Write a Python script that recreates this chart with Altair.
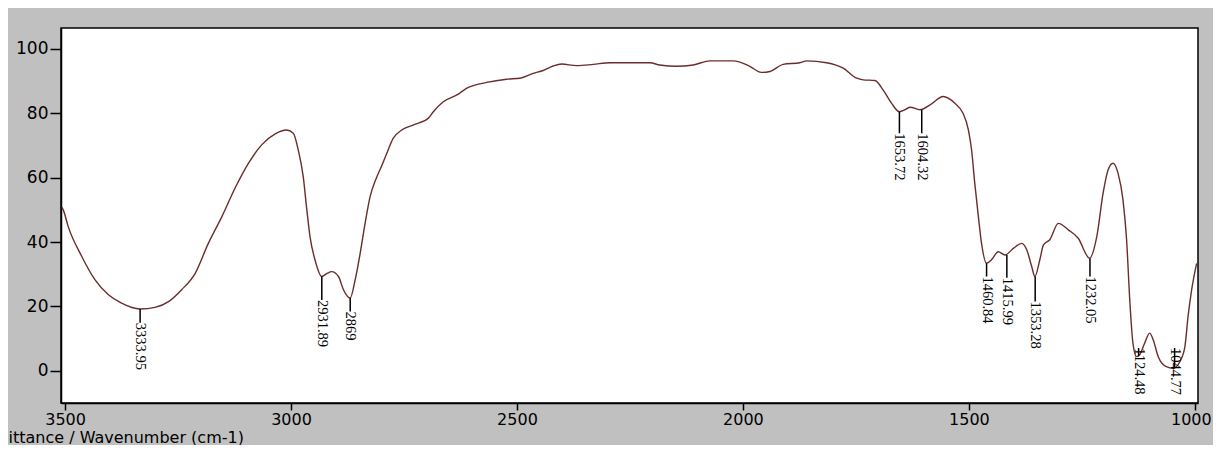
import altair as alt
import pandas as pd

# Spectrum trace (wavenumber cm-1, %T)
wavenumber = [3507, 3504, 3493, 3463, 3434, 3404, 3375, 3334, 3301, 3271, 3242, 3212,
              3183, 3153, 3124, 3094, 3065, 3035, 3010, 2995, 2984, 2973, 2965, 2958,
              2947, 2932, 2921, 2910, 2895, 2884, 2869, 2858, 2847, 2836, 2825, 2810,
              2800, 2788, 2774, 2755, 2729, 2696, 2685, 2663, 2633, 2611, 2567, 2523,
              2493, 2464, 2442, 2420, 2401, 2368, 2331, 2294, 2206, 2184, 2147, 2110,
              2073, 2021, 1985, 1959, 1940, 1911, 1874, 1859, 1815, 1778, 1748, 1734,
              1708, 1690, 1671, 1654, 1640, 1630, 1608, 1586, 1557, 1531, 1513, 1501,
              1494, 1487, 1479, 1472, 1461, 1450, 1435, 1420, 1401, 1383, 1372, 1361,
              1354, 1343, 1335, 1321, 1302, 1280, 1258, 1233, 1217, 1203, 1192, 1181,
              1170, 1159, 1151, 1144, 1137, 1129, 1122, 1111, 1100, 1092, 1081, 1063,
              1048, 1033, 1022, 1015, 1007, 996]
transmittance = [50.8, 50.0, 44.8, 35.5, 28.3, 23.6, 21.0, 19.2, 19.7, 21.5, 25.2, 30.3,
                 39.6, 47.9, 56.7, 64.5, 70.2, 73.6, 74.8, 73.8, 68.6, 60.3, 50.0, 41.7,
                 34.5, 29.3, 30.2, 30.8, 29.3, 25.2, 22.6, 28.3, 36.5, 45.9, 54.1, 60.3,
                 63.5, 67.6, 72.2, 74.8, 76.4, 78.5, 80.5, 83.6, 85.7, 87.8, 89.6, 90.6,
                 90.9, 92.4, 93.3, 94.7, 95.3, 94.8, 95.2, 95.7, 95.7, 95.0, 94.6, 95.0,
                 96.3, 96.3, 94.6, 92.7, 93.0, 95.2, 95.7, 96.3, 95.7, 94.0, 90.9, 90.4,
                 90.2, 87.3, 83.1, 80.5, 81.2, 81.9, 81.1, 82.6, 85.2, 83.1, 80.0, 74.8,
                 68.6, 58.3, 47.9, 39.6, 33.4, 34.5, 37.0, 36.0, 38.1, 39.6, 37.6, 32.4,
                 29.3, 34.5, 39.1, 40.7, 45.8, 43.8, 41.2, 35.0, 41.7, 55.2, 62.4, 64.5,
                 61.4, 53.1, 40.7, 22.0, 8.6, 4.4, 5.0, 8.6, 11.7, 9.6, 4.4, 1.3,
                 0.8, 2.9, 7.5, 16.9, 25.2, 33.4]

# Peak annotations
peak_wn = [3333.95, 2931.89, 2869, 1653.72, 1604.32, 1460.84, 1415.99, 1353.28, 1232.05, 1124.48, 1044.77]
peak_text = ["3333.95", "2931.89", "2869", "1653.72", "1604.32", "1460.84", "1415.99",
             "1353.28", "1232.05", "1124.48", "1044.77"]
peak_val = [19.2, 29.3, 22.6, 80.5, 81.1, 33.4, 36.0, 29.3, 35.0, 4.6, 0.8]
label_val = [14.9, 22.0, 18.4, 73.8, 73.8, 29.3, 28.9, 21.5, 29.3, 7.1, 7.1]

x_ticks = [3500, 3000, 2500, 2000, 1500, 1000]
y_ticks = [0, 20, 40, 60, 80, 100]

spec = pd.DataFrame({"wn": wavenumber, "t": transmittance})
peaks = pd.DataFrame({"wn": peak_wn, "txt": peak_text, "pv": peak_val, "lv": label_val})

xs = alt.Scale(domain=[993, 3509], reverse=True, nice=False, zero=False)
ys = alt.Scale(domain=[-10, 106.5], nice=False, zero=False)

x_axis = alt.Axis(values=x_ticks, format="d", tickSize=7, labelPadding=1,
                  labelFontSize=16,
                  labelOffset={"condition": {"test": "datum.value == 1000", "value": -4},
                               "value": 0},
                  title="ittance / Wavenumber (cm-1)", titleX=-53, titleY=34,
                  titleAlign="left", titleBaseline="middle", titleAnchor="start",
                  titleFontSize=16)
y_axis = alt.Axis(values=y_ticks, tickSize=11, labelPadding=2, title=None)

line = alt.Chart(spec).mark_line(color="#6b2c2c", strokeWidth=1.4, clip=True,
                                 interpolate="monotone").encode(
    x=alt.X("wn:Q", scale=xs, axis=x_axis),
    y=alt.Y("t:Q", scale=ys, axis=y_axis),
    order="wn:Q",
)

rules = alt.Chart(peaks).mark_rule(color="black", strokeWidth=1.5).encode(
    x=alt.X("wn:Q", scale=xs),
    y=alt.Y("pv:Q", scale=ys),
    y2="lv:Q",
)

labels = alt.Chart(peaks).mark_text(angle=90, align="left", baseline="middle",
                                    font="Liberation Serif", fontSize=14.5, color="black").encode(
    x=alt.X("wn:Q", scale=xs),
    y=alt.Y("lv:Q", scale=ys),
    text="txt:N",
)

chart = alt.layer(line, rules, labels).properties(
    width=1137, height=375,
    autosize=alt.AutoSizeParams(type="none"),
    padding={"left": 53, "top": 20, "right": 15, "bottom": 42},
).configure(background="#c0c0c0").configure_view(
    fill="white", stroke="black", strokeWidth=1.5
).configure_axis(
    grid=False, domainColor="black", domainWidth=1.5, tickColor="black", tickWidth=1.5,
    labelFont="DejaVu Sans", labelFontSize=17, labelColor="black",
    titleFont="DejaVu Sans", titleFontWeight="normal", titleColor="black",
)

chart.save("out.html", embed_options={"renderer": "svg", "actions": False})
